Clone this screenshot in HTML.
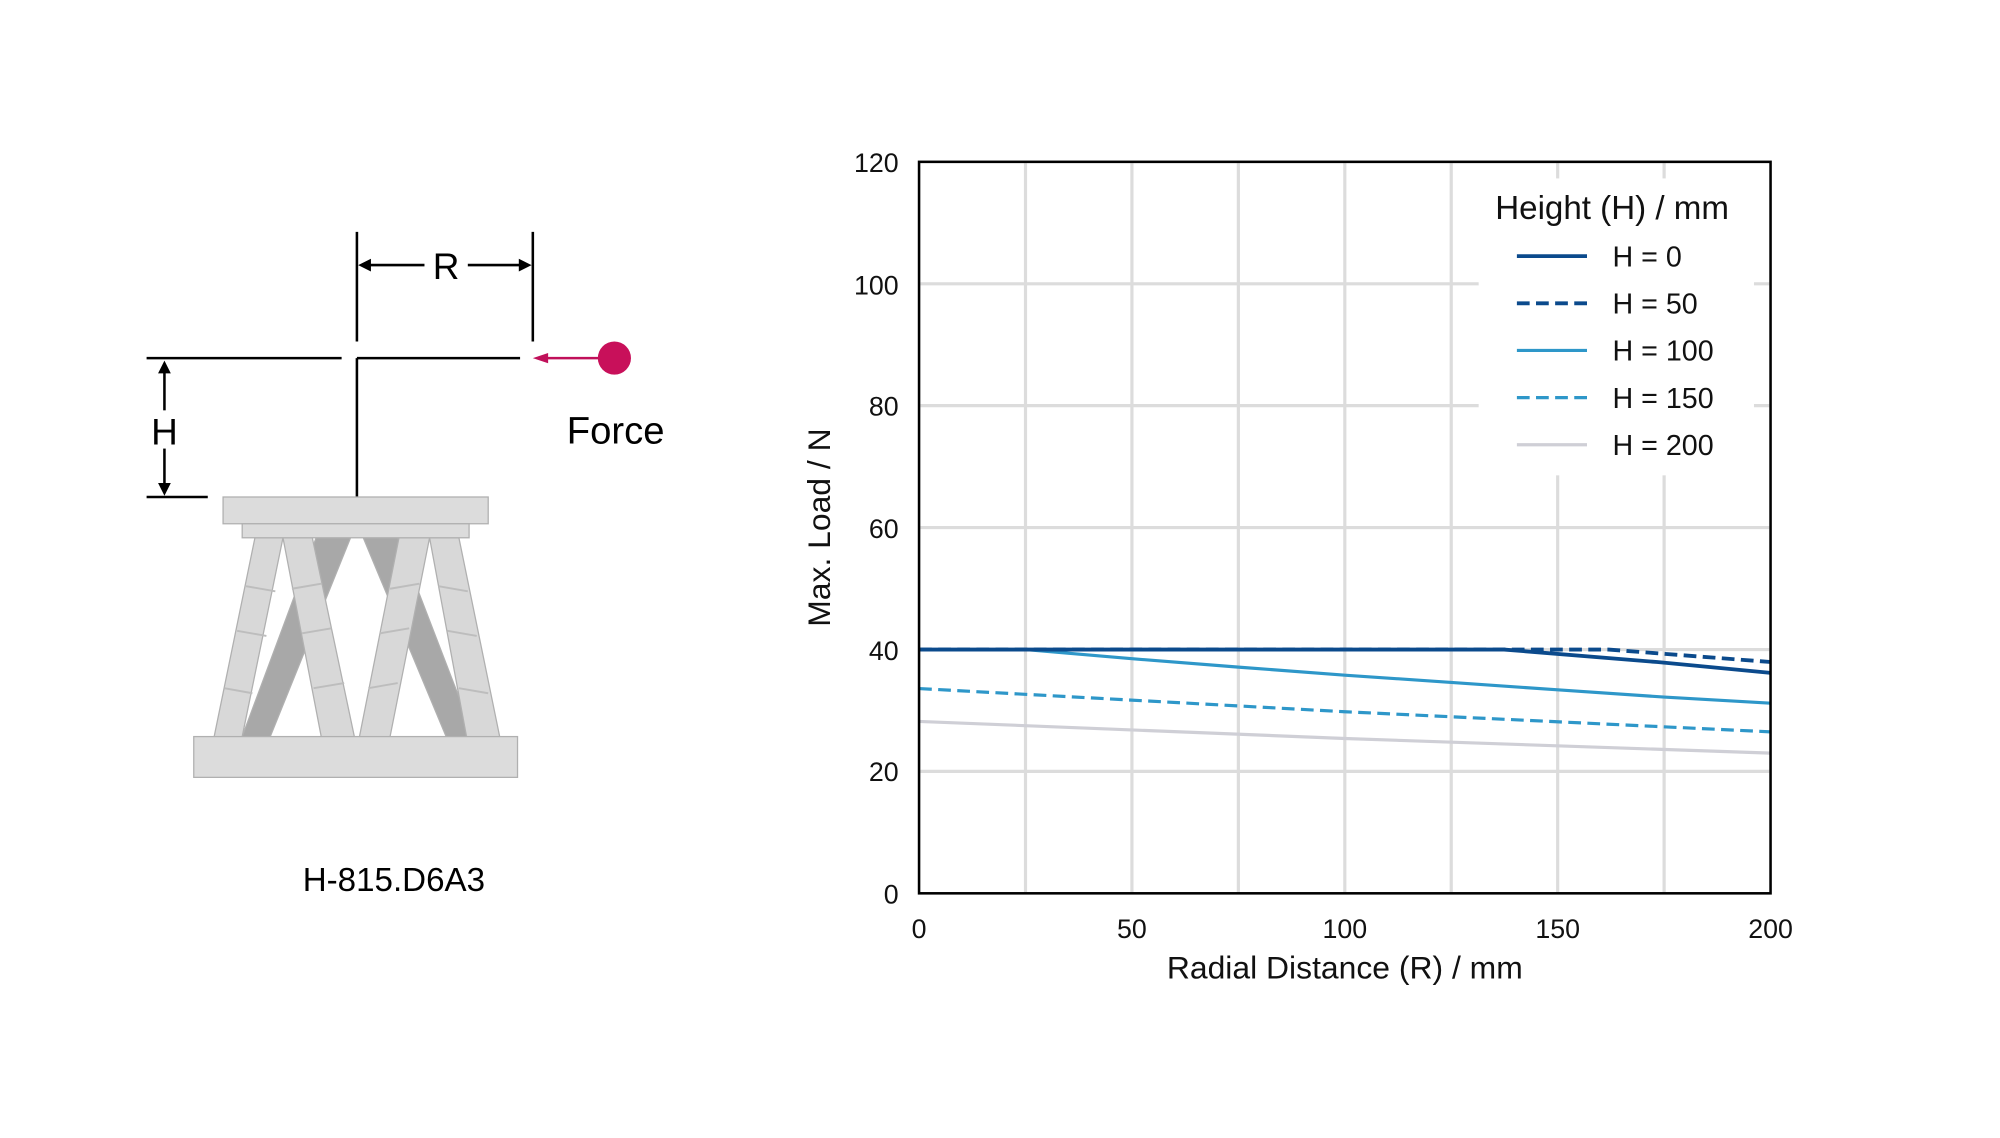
<!DOCTYPE html>
<html><head><meta charset="utf-8"><style>html,body{margin:0;padding:0;background:#fff}svg{display:block}</style></head>
<body>
<svg width="2000" height="1138" viewBox="0 0 1569 893" preserveAspectRatio="none" xmlns="http://www.w3.org/2000/svg" font-family="'Liberation Sans', 'DejaVu Sans', sans-serif">
<rect width="1569" height="893" fill="#fff"/>
<g stroke="#000" stroke-width="2" fill="none">
<line x1="280" y1="182" x2="280" y2="268"/>
<line x1="418" y1="182" x2="418" y2="268"/>
<line x1="287" y1="208" x2="333" y2="208"/>
<line x1="367" y1="208" x2="411" y2="208"/>
<line x1="115" y1="281" x2="268" y2="281"/>
<line x1="280" y1="281" x2="408" y2="281"/>
<line x1="280" y1="281" x2="280" y2="390"/>
<line x1="115" y1="390" x2="163" y2="390"/>
<line x1="129" y1="290" x2="129" y2="322"/>
<line x1="129" y1="352" x2="129" y2="382"/>
</g>
<g fill="#000">
<polygon points="281,208 291,203 291,213"/>
<polygon points="417,208 407,203 407,213"/>
<polygon points="129,283 124,293 134,293"/>
<polygon points="129,389 124,379 134,379"/>
</g>
<text x="350" y="219" font-size="29" text-anchor="middle">R</text>
<text x="129" y="349" font-size="29" text-anchor="middle">H</text>
<line x1="425" y1="281" x2="470" y2="281" stroke="#c0105a" stroke-width="2"/>
<polygon points="418,281 430,277 430,285" fill="#c0105a"/>
<circle cx="482" cy="281" r="13" fill="#c8105a"/>
<text x="483" y="348" font-size="30" text-anchor="middle">Force</text>
<g stroke="#b0b0b0" stroke-width="1">
<polygon points="248,422 275,422 212,578 190,578" fill="#a8a8a8"/>
<polygon points="285,422 312,422 372,578 350,578" fill="#a8a8a8"/>
<polygon points="200,422 222,422 190,578 168,578" fill="#d8d8d8"/>
<polygon points="222,422 245,422 278,578 252,578" fill="#d8d8d8"/>
<polygon points="313,422 337,422 306,578 282,578" fill="#d8d8d8"/>
<polygon points="337,422 360,422 392,578 366,578" fill="#d8d8d8"/>
<rect x="175" y="390" width="208" height="21" fill="#dcdcdc"/>
<rect x="190" y="411" width="178" height="11" fill="#dcdcdc"/>
<rect x="152" y="578" width="254" height="32" fill="#dcdcdc"/>
</g>
<g stroke="#bdbdbd" stroke-width="1.5">
<line x1="193" y1="460" x2="216" y2="464"/><line x1="186" y1="495" x2="209" y2="499"/><line x1="176" y1="540" x2="198" y2="544"/>
<line x1="229" y1="462" x2="252" y2="458"/><line x1="237" y1="497" x2="260" y2="493"/><line x1="246" y1="540" x2="270" y2="536"/>
<line x1="306" y1="462" x2="329" y2="458"/><line x1="298" y1="497" x2="321" y2="493"/><line x1="289" y1="540" x2="312" y2="536"/>
<line x1="344" y1="460" x2="367" y2="464"/><line x1="351" y1="495" x2="374" y2="499"/><line x1="360" y1="540" x2="383" y2="544"/>
</g>
<text x="309" y="699" font-size="26" text-anchor="middle">H-815.D6A3</text>
<g stroke="#dcdcdc" stroke-width="2.5">
<line x1="804.5" y1="128" x2="804.5" y2="700"/>
<line x1="888" y1="128" x2="888" y2="700"/>
<line x1="971.5" y1="128" x2="971.5" y2="700"/>
<line x1="1055" y1="128" x2="1055" y2="700"/>
<line x1="1138.5" y1="128" x2="1138.5" y2="700"/>
<line x1="1222" y1="128" x2="1222" y2="700"/>
<line x1="1305.5" y1="128" x2="1305.5" y2="700"/>
<line x1="722" y1="605.3" x2="1388" y2="605.3"/>
<line x1="722" y1="509.7" x2="1388" y2="509.7"/>
<line x1="722" y1="414" x2="1388" y2="414"/>
<line x1="722" y1="318.3" x2="1388" y2="318.3"/>
<line x1="722" y1="222.7" x2="1388" y2="222.7"/>
</g>
<rect x="1160" y="140" width="216" height="233" fill="#fff"/>
<g fill="none" stroke-width="2.5">
<polyline points="721,566.1 1055,579.5 1389,591" stroke="#cfcfd6"/>
<polyline points="721,540.3 1055,558.5 1389,574.3" stroke="#2e97c9" stroke-dasharray="10,5"/>
<polyline points="721,509.7 804.5,509.7 888,516.9 971.5,523.5 1055,529.8 1138.5,535.5 1222,541.3 1305.5,547 1389,551.8" stroke="#2e97c9"/>
<polyline points="721,509.7 1262,509.7 1389,519.5" stroke="#0b4a8c" stroke-width="3" stroke-dasharray="10,5"/>
<polyline points="721,509.7 1180,509.7 1300,519.5 1389,528" stroke="#0b4a8c" stroke-width="3"/>
</g>
<rect x="721" y="127" width="668" height="574" fill="none" stroke="#000" stroke-width="2"/>
<g font-size="21" text-anchor="end" fill="#111">
<text x="705" y="709">0</text>
<text x="705" y="613">20</text>
<text x="705" y="518">40</text>
<text x="705" y="422">60</text>
<text x="705" y="326">80</text>
<text x="705" y="231">100</text>
<text x="705" y="135">120</text>
</g>
<g font-size="21" text-anchor="middle" fill="#111">
<text x="721" y="736">0</text>
<text x="888" y="736">50</text>
<text x="1055" y="736">100</text>
<text x="1222" y="736">150</text>
<text x="1389" y="736">200</text>
</g>
<text x="1055" y="768" font-size="25" text-anchor="middle" fill="#111">Radial Distance (R) / mm</text>
<text transform="translate(651,414) rotate(-90)" font-size="25" text-anchor="middle" fill="#111">Max. Load / N</text>
<text x="1173" y="172" font-size="26" fill="#111">Height (H) / mm</text>
<g stroke-width="3">
<line x1="1190" y1="201" x2="1245" y2="201" stroke="#0b4a8c"/>
<line x1="1190" y1="238" x2="1245" y2="238" stroke="#0b4a8c" stroke-dasharray="10,5"/>
<line x1="1190" y1="275" x2="1245" y2="275" stroke="#2e97c9" stroke-width="2.5"/>
<line x1="1190" y1="312" x2="1245" y2="312" stroke="#2e97c9" stroke-width="2.5" stroke-dasharray="10,5"/>
<line x1="1190" y1="349" x2="1245" y2="349" stroke="#cfcfd6" stroke-width="2.5"/>
</g>
<g font-size="22.5" fill="#111">
<text x="1265" y="209">H = 0</text>
<text x="1265" y="246">H = 50</text>
<text x="1265" y="283">H = 100</text>
<text x="1265" y="320">H = 150</text>
<text x="1265" y="357">H = 200</text>
</g>
</svg>
</body></html>
